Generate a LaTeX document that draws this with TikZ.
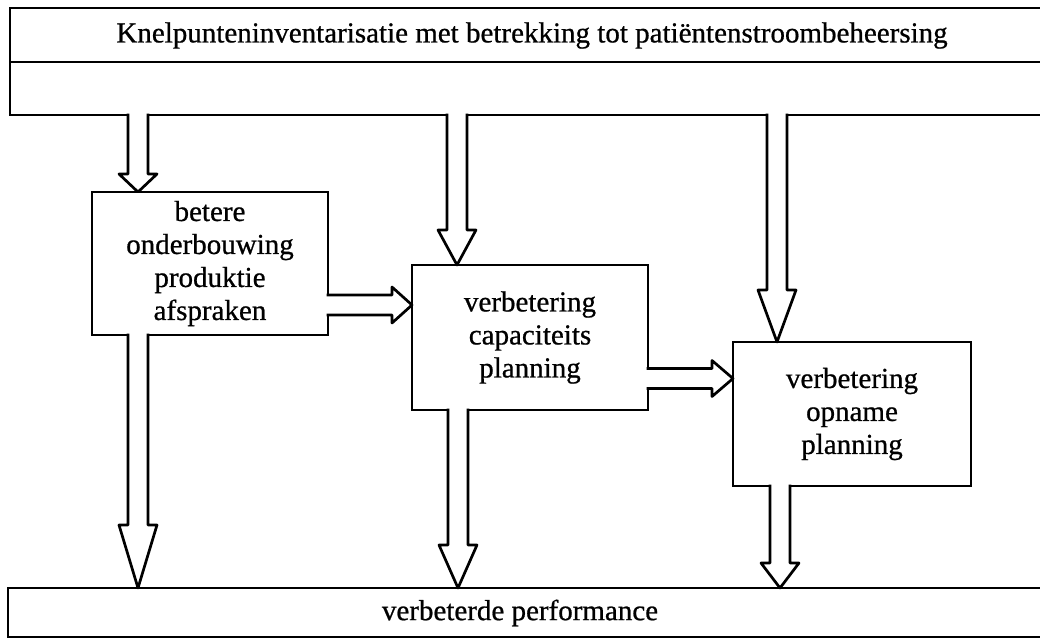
\documentclass[tikz,border=0pt]{standalone}
\usepackage{fontspec}
\setmainfont{Liberation Serif}
\newfontfamily\inkfont{Liberation Serif}[FakeBold=0.7]
\usetikzlibrary{calc}

\tikzset{
  % outline boxes
  boxline/.style={line width=2.7pt, line join=miter},
  stage/.style={boxline, draw, fill=white, inner sep=0pt, outer sep=0pt,
    align=center, font=\inkfont\fontsize{29}{33}\selectfont},
  label/.style={inner sep=0pt, font=\inkfont\fontsize{29}{33}\selectfont},
  % hollow downward flow arrow; #1 = head length
  vflow/.style={boxline, line join=round, fill=white, to path={
    let \p1=(\tikztostart), \p2=(\tikztotarget) in
    (\x1-10pt,\y1+1.35pt) -- (\x1-10pt,\y2+#1pt) -- (\x1-19pt,\y2+#1pt)
    -- (\x2,\y2) -- (\x1+19pt,\y2+#1pt) -- (\x1+10pt,\y2+#1pt)
    -- (\x1+10pt,\y1+1.35pt)}},
  % hollow rightward flow arrow; #1 = head length
  hflow/.style={boxline, line join=round, fill=white, to path={
    let \p1=(\tikztostart), \p2=(\tikztotarget) in
    (\x1-1.35pt,\y1+10pt) -- (\x2-#1pt,\y1+10pt) -- (\x2-#1pt,\y1+18pt)
    -- (\x2,\y2) -- (\x2-#1pt,\y1-18pt) -- (\x2-#1pt,\y1-10pt)
    -- (\x1-1.35pt,\y1-10pt)}},
}

\begin{document}
\begin{tikzpicture}[x=1pt, y=-1pt]
  \useasboundingbox (0,0) rectangle (1040,640);
  \fill[white] (0,0) rectangle (1040,640);
  \clip (0,0) rectangle (1040,640);

  % columns and rows of the flow arrows
  \coordinate (c1) at (138,0);
  \coordinate (c2) at (457,0);
  \coordinate (c3) at (777,0);
  \coordinate (d1) at (138,0);
  \coordinate (d2) at (458,0);
  \coordinate (d3) at (780,0);
  \coordinate (r1) at (0,305);
  \coordinate (r2) at (0,378.5);

  % top frame (open to the right)
  \path node[inner sep=0pt, outer sep=0pt, minimum width=1040, minimum height=107,
    anchor=north west] (top) at (10,8) {};
  \draw[boxline] (top.north east) -- (top.north west) -- (top.south west) -- (top.south east);
  \draw[boxline] (top.west |- 0,62) -- (top.east |- 0,62);
  \node[label] (title) at (532,35.5)
    {Knelpunteninventarisatie met betrekking tot patiëntenstroombeheersing};

  % bottom frame (open to the right)
  \path node[inner sep=0pt, outer sep=0pt, minimum width=1040, minimum height=49,
    anchor=north west] (bottom) at (8,588) {};
  \draw[boxline] (bottom.north east) -- (bottom.north west) -- (bottom.south west) -- (bottom.south east);
  \node[label] (result) at (520,613) {verbeterde performance};

  % stages
  \node[stage, minimum width=236, minimum height=143] (b1) at (210,263.5)
    {betere\\onderbouwing\\produktie\\afspraken};
  \node[stage, minimum width=236, minimum height=145] (b2) at (530,337.5)
    {verbetering\\capaciteits\\planning};
  \node[stage, minimum width=238, minimum height=144] (b3) at (852,414)
    {verbetering\\opname\\planning};

  % flows from the inventory
  \draw[vflow=18] (top.south -| c1) to (b1.north -| c1);
  \draw[vflow=35] (top.south -| c2) to (b2.north -| c2);
  \draw[vflow=52] (top.south -| c3) to (b3.north -| c3);

  % flows between stages
  \draw[hflow=20] (b1.east |- r1) to (b2.west |- r1);
  \draw[hflow=21] (b2.east |- r2) to (b3.west |- r2);

  % flows into the result
  \draw[vflow=63] (b1.south -| d1) to (bottom.north -| d1);
  \draw[vflow=43] (b2.south -| d2) to (bottom.north -| d2);
  \draw[vflow=25] (b3.south -| d3) to (bottom.north -| d3);
\end{tikzpicture}
\end{document}
